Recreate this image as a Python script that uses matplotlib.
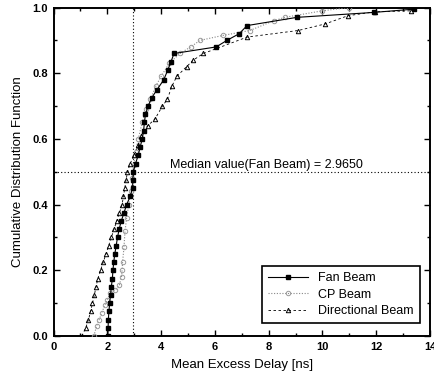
# -*- coding: utf-8 -*-

import matplotlib
matplotlib.use('Agg')
import matplotlib.pyplot as plt
from matplotlib.ticker import MultipleLocator

plt.rcParams['font.family'] = ['Liberation Sans', 'DejaVu Sans']

# Fan Beam (filled squares, solid line)
fan_x = [2.02, 2.03, 2.04, 2.06, 2.09, 2.12, 2.15, 2.19, 2.21, 2.24, 2.28, 2.33, 2.38,
         2.44, 2.52, 2.62, 2.72, 2.85, 2.94, 2.95, 2.97, 3.05, 3.15, 3.22, 3.30, 3.35,
         3.38, 3.42, 3.52, 3.65, 3.85, 4.10, 4.25, 4.37, 4.48, 6.05, 6.45, 6.90, 7.20,
         9.05, 11.9, 13.4]
fan_y = [0.0, 0.025, 0.05, 0.075, 0.10, 0.125, 0.15, 0.175, 0.20, 0.225, 0.25, 0.275, 0.30,
         0.325, 0.35, 0.375, 0.40, 0.425, 0.45, 0.475, 0.50, 0.525, 0.55, 0.575, 0.60, 0.625,
         0.65, 0.675, 0.70, 0.725, 0.75, 0.78, 0.81, 0.835, 0.86, 0.88, 0.90, 0.92, 0.945,
         0.97, 0.985, 0.995]

# CP Beam (open circles, dotted grey)
cp_x = [1.50, 1.60, 1.70, 1.79, 1.91, 2.00, 2.10, 2.30, 2.45, 2.53, 2.55, 2.57, 2.62, 2.66,
        2.72, 2.80, 2.88, 2.93, 2.98, 3.05, 3.15, 3.30, 3.45, 3.60, 3.80, 4.00, 4.30, 4.70,
        5.10, 5.45, 6.30, 7.30, 8.20, 8.60, 10.0, 11.0]
cp_y = [0.0, 0.03, 0.05, 0.07, 0.094, 0.11, 0.13, 0.14, 0.155, 0.18, 0.20, 0.226, 0.27, 0.32,
        0.36, 0.40, 0.44, 0.48, 0.52, 0.56, 0.60, 0.65, 0.69, 0.72, 0.76, 0.79, 0.83, 0.86,
        0.88, 0.90, 0.915, 0.93, 0.96, 0.97, 0.99, 1.0]

# Directional Beam (open triangles, dashed)
dir_x = [1.05, 1.20, 1.30, 1.38, 1.45, 1.52, 1.58, 1.65, 1.75, 1.85, 1.95, 2.05, 2.15, 2.25,
         2.35, 2.45, 2.55, 2.60, 2.65, 2.70, 2.75, 2.85, 3.00, 3.15, 3.25, 3.50, 3.77, 4.05,
         4.23, 4.40, 4.58, 4.95, 5.20, 5.57, 7.20, 9.10, 10.1, 10.95, 11.95, 13.3]
dir_y = [0.0, 0.025, 0.05, 0.075, 0.10, 0.125, 0.15, 0.175, 0.20, 0.225, 0.25, 0.275, 0.30,
         0.325, 0.35, 0.375, 0.40, 0.425, 0.45, 0.475, 0.50, 0.525, 0.55, 0.58, 0.61, 0.64,
         0.66, 0.70, 0.72, 0.76, 0.79, 0.82, 0.84, 0.86, 0.91, 0.93, 0.95, 0.975, 0.987, 0.99]

median_fan = 2.965
median_level = 0.5

fig = plt.figure(figsize=(4.35, 3.83), dpi=100)
ax = fig.add_axes([0.123, 0.1227, 0.8655, 0.8577])

ax.plot(fan_x, fan_y, '-', color='black', linewidth=0.8, marker='s', markersize=3.5,
        markerfacecolor='black', markeredgecolor='black', label='Fan Beam', zorder=4)
ax.plot(cp_x, cp_y, linestyle=(0, (1, 1.5)), color='#888888', linewidth=0.8, marker='o',
        markersize=3.2, markerfacecolor='none', markeredgecolor='#999999',
        markeredgewidth=0.7, label='CP Beam', zorder=3)
ax.plot(dir_x, dir_y, linestyle=(0, (3, 3)), color='black', linewidth=0.6, marker='^',
        markersize=3.2, markerfacecolor='none', markeredgecolor='black',
        markeredgewidth=0.7, label='Directional Beam', zorder=3)

# median guide lines
ax.axvline(median_fan, color='black', linewidth=0.8, linestyle=(0, (1, 2)), zorder=2)
ax.axhline(median_level, color='black', linewidth=0.8, linestyle=(0, (1, 2)), zorder=2)
ax.text(4.33, 0.512, 'Median value(Fan Beam) = 2.9650', fontsize=9)

ax.set_xlim(0, 14)
ax.set_ylim(0, 1.0)
ax.xaxis.set_major_locator(MultipleLocator(2))
ax.xaxis.set_minor_locator(MultipleLocator(1))
ax.yaxis.set_major_locator(MultipleLocator(0.2))
ax.yaxis.set_minor_locator(MultipleLocator(0.1))
ax.set_yticklabels(['{:.1f}'.format(v) for v in ax.get_yticks()])

ax.tick_params(which='both', direction='in', top=True, right=True, width=1.0)
ax.tick_params(which='major', length=4, labelsize=8, pad=4)
ax.tick_params(which='minor', length=2.5)
for lab in ax.get_xticklabels() + ax.get_yticklabels():
    lab.set_fontweight('bold')
for sp in ax.spines.values():
    sp.set_linewidth(1.4)

ax.set_xlabel('Mean Excess Delay [ns]', fontsize=9.5, labelpad=5)
ax.set_ylabel('Cumulative Distribution Function', fontsize=9.5, labelpad=6)

leg = ax.legend(loc='lower right', bbox_to_anchor=(0.99, 0.02), fontsize=9,
                frameon=True, fancybox=False, edgecolor='black', framealpha=1,
                handlelength=3.2, borderpad=0.5, labelspacing=0.35)
leg.get_frame().set_linewidth(1.2)

fig.savefig('out.png', dpi=100)
